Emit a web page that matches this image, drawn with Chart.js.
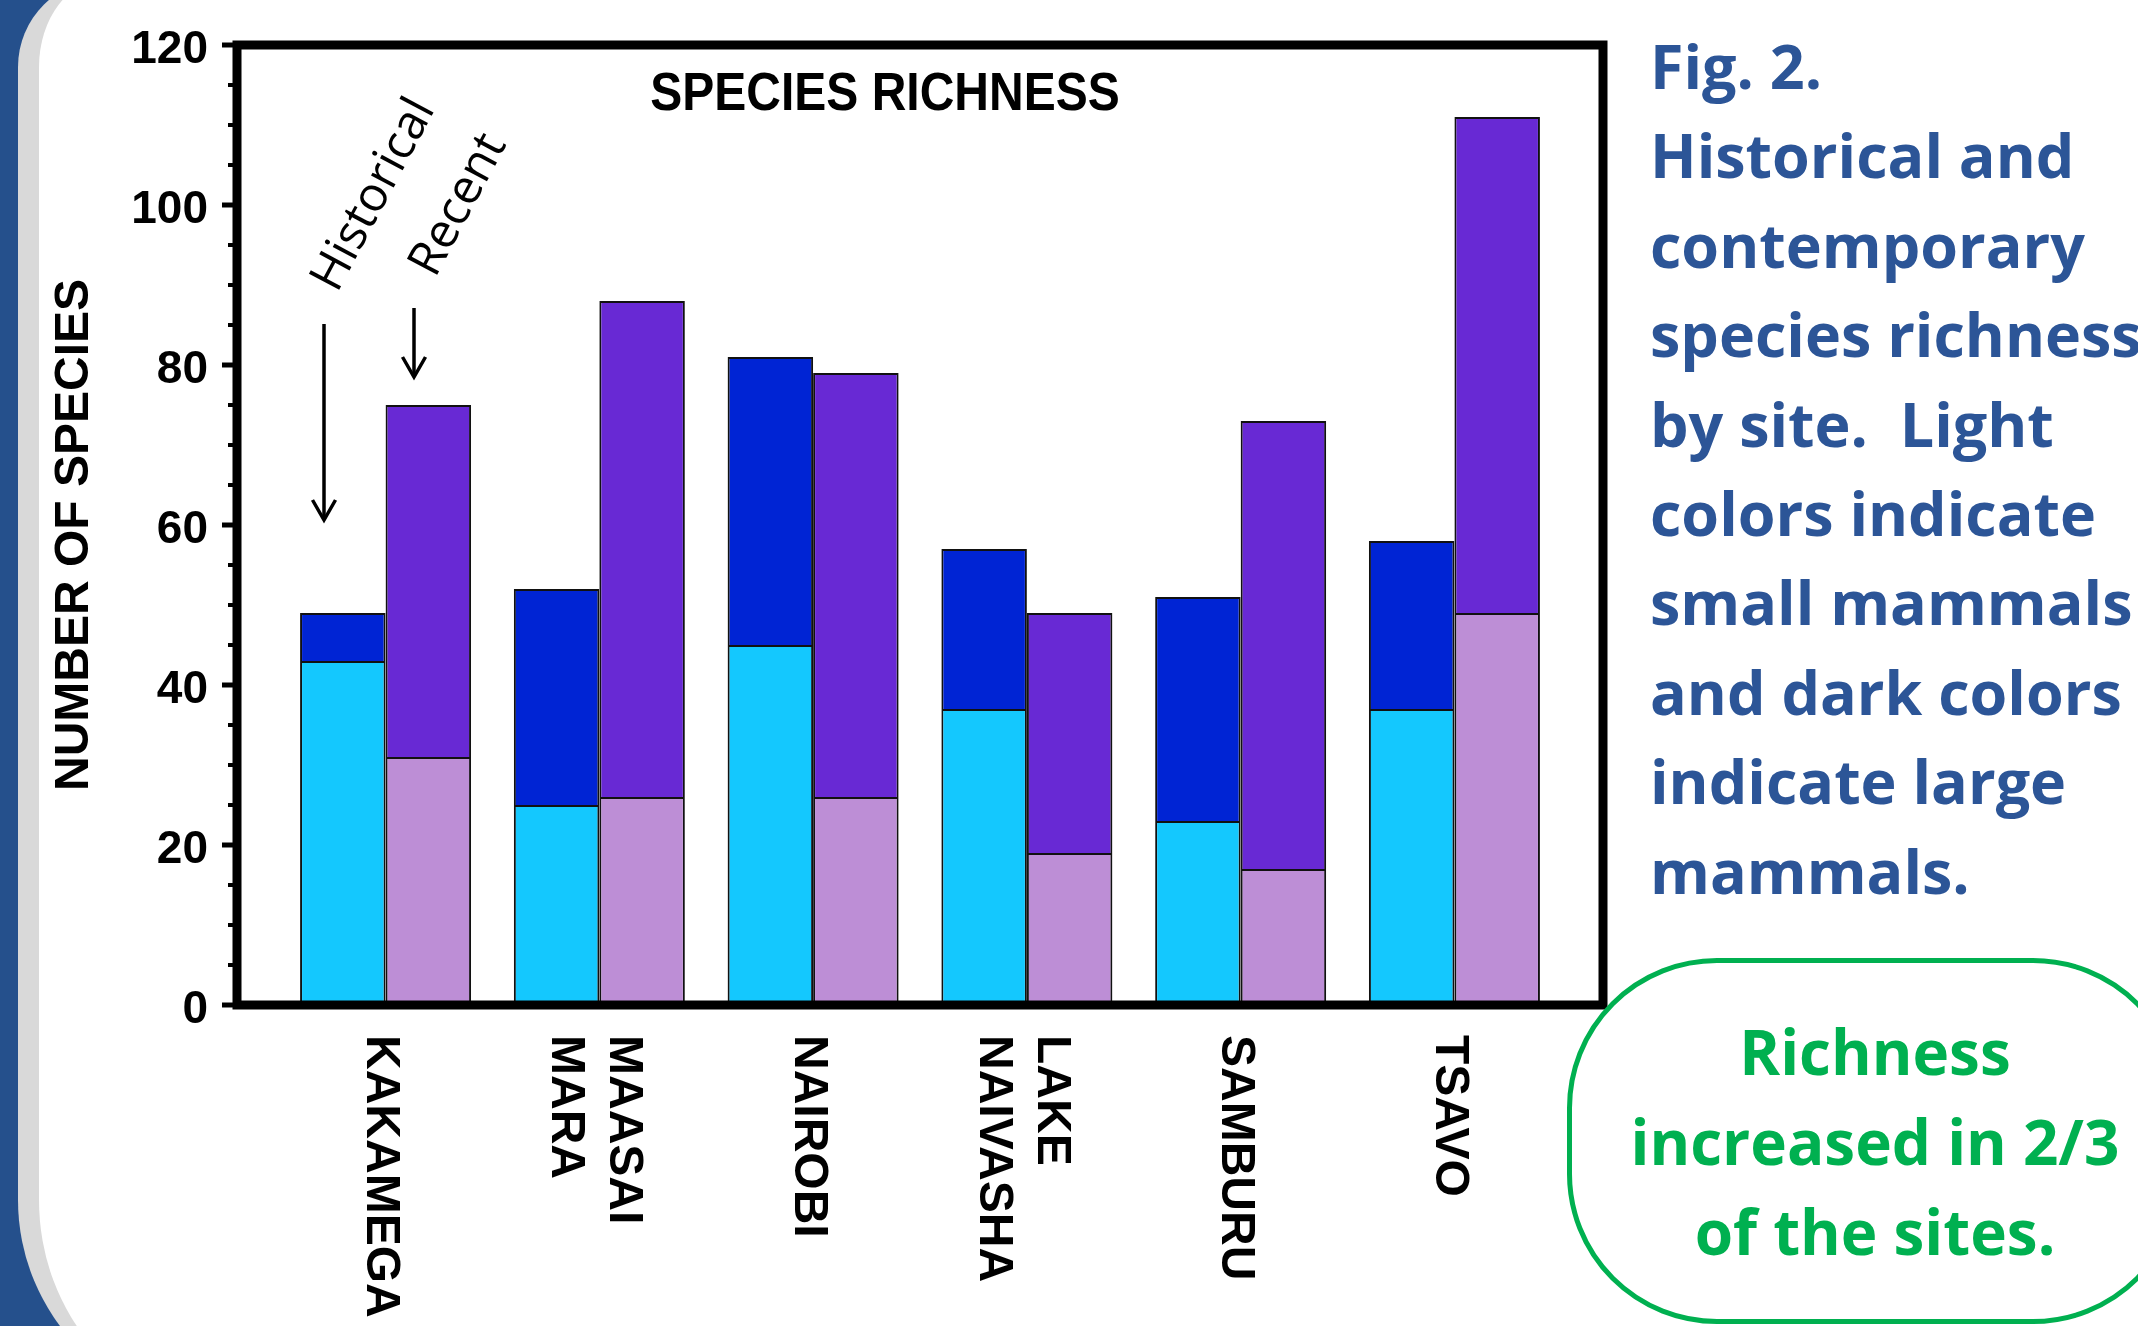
<!DOCTYPE html>
<html lang="en">
<head>
<meta charset="UTF-8">
<title>Species Richness</title>
<script src="https://cdn.jsdelivr.net/npm/chart.js"></script>
<style>
    html, body {
        margin: 0;
        padding: 0;
    }

    body {
        width: 2138px;
        height: 1326px;
        overflow: hidden;
        position: relative;
        background: #25508c;
    }

    .panel {
        position: absolute;
        left: 18px;
        top: -21px;
        width: 2300px;
        height: 1431px;
        background: #fff;
        border-left: 21px solid #d9d9d9;
        border-radius: 88px 0 0 210px;
        box-sizing: border-box;
    }

    #chartCanvas {
        position: absolute;
        left: 0;
        top: 0;
    }

    .caption {
        position: absolute;
        left: 1650px;
        top: 21px;
        color: #2c5597;
        font: bold 61px/89.4px 'Open Sans', sans-serif;
        white-space: nowrap;
    }

    .callout {
        position: absolute;
        left: 1567px;
        top: 958px;
        width: 616px;
        height: 366px;
        border: 5px solid #00b050;
        border-radius: 150px;
        box-sizing: border-box;
    }

    .callout-text {
        position: absolute;
        left: 1567px;
        top: 1006px;
        width: 616px;
        text-align: center;
        color: #00b050;
        font: bold 62px/90px 'Open Sans', sans-serif;
        white-space: nowrap;
    }
</style>
</head>
<body>
    <div class="panel"></div>
    <canvas id="chartCanvas" width="1640" height="1326"></canvas>

    <div class="caption">
        Fig. 2.<br>
        Historical and<br>
        contemporary<br>
        species richness<br>
        by site.&nbsp; Light<br>
        colors indicate<br>
        small mammals<br>
        and dark colors<br>
        indicate large<br>
        mammals.
    </div>

    <div class="callout"></div>
    <div class="callout-text">
        Richness<br>
        increased in 2/3<br>
        of the sites.
    </div>

<script>
    // data
    const sites = ['KAKAMEGA', ['MAASAI', 'MARA'], 'NAIROBI', ['LAKE', 'NAIVASHA'], 'SAMBURU', 'TSAVO'];
    const historicalSmall = [43, 25, 45, 37, 23, 37];
    const historicalLarge = [6, 27, 36, 20, 28, 21];
    const recentSmall = [31, 26, 26, 19, 17, 49];
    const recentLarge = [44, 62, 53, 30, 56, 62];
    const yTicks = [0, 20, 40, 60, 80, 100, 120];

    const FONT = "'Liberation Sans', Arial, sans-serif";
    Chart.defaults.font.family = FONT;
    Chart.defaults.color = '#000';

    function points(values) {
        return values.map((v, i) => ({ x: i, y: v }));
    }

    // black box around the plot plus the y tick marks
    const framePlugin = {
        id: 'frame',
        afterDatasetsDraw(chart) {
            const { ctx, chartArea } = chart;
            const y = chart.scales.y;
            ctx.save();
            ctx.strokeStyle = '#000';
            ctx.lineWidth = 9;
            ctx.lineJoin = 'miter';
            ctx.strokeRect(chartArea.left, chartArea.top,
                chartArea.right - chartArea.left, chartArea.bottom - chartArea.top);

            for (let v = 0; v <= 120; v += 5) {
                const py = y.getPixelForValue(v);
                const major = v % 20 === 0;
                ctx.lineWidth = major ? 5 : 4;
                ctx.beginPath();
                ctx.moveTo(chartArea.left - (major ? 15 : 9), py);
                ctx.lineTo(chartArea.left, py);
                ctx.stroke();
            }
            ctx.restore();
        }
    };

    // site names, turned clockwise under each group
    const siteLabels = {
        id: 'siteLabels',
        afterDraw(chart) {
            const { ctx, chartArea } = chart;
            const x = chart.scales.x;
            ctx.save();
            ctx.fillStyle = '#000';
            ctx.font = 'bold 48px ' + FONT;
            ctx.textAlign = 'left';
            ctx.textBaseline = 'middle';
            sites.forEach((name, i) => {
                const lines = Array.isArray(name) ? name : [name];
                ctx.save();
                ctx.translate(x.getPixelForValue(i) - 5, chartArea.bottom + 30);
                ctx.rotate(Math.PI / 2);
                lines.forEach((line, k) => {
                    ctx.fillText(line, 0, (k - (lines.length - 1) / 2) * 58);
                });
                ctx.restore();
            });
            ctx.restore();
        }
    };

    // in-plot title, y axis title and the Historical / Recent pointers
    const notes = {
        id: 'notes',
        afterDraw(chart) {
            const { ctx, chartArea } = chart;
            ctx.save();
            ctx.fillStyle = '#000';
            ctx.strokeStyle = '#000';

            ctx.save();
            ctx.font = 'bold 48px ' + FONT;
            ctx.textAlign = 'center';
            ctx.translate(885, 110);
            ctx.scale(1, 1.1);
            ctx.fillText('SPECIES RICHNESS', 0, 0);
            ctx.restore();

            ctx.save();
            ctx.font = 'bold 48px ' + FONT;
            ctx.textAlign = 'center';
            ctx.textBaseline = 'middle';
            ctx.translate(75, (chartArea.top + chartArea.bottom) / 2 + 10);
            ctx.rotate(-Math.PI / 2);
            ctx.fillText('NUMBER OF SPECIES', 0, 0);
            ctx.restore();

            ctx.font = "48px 'Open Sans', sans-serif";
            ctx.textAlign = 'left';
            [['Historical', 337, 294], ['Recent', 435, 279]].forEach(([t, tx, ty]) => {
                ctx.save();
                ctx.translate(tx, ty);
                ctx.rotate(-62 * Math.PI / 180);
                ctx.fillText(t, 0, 0);
                ctx.restore();
            });

            ctx.lineWidth = 3.5;
            [[324, 324, 520], [414, 308, 377]].forEach(([ax, y1, y2]) => {
                ctx.beginPath();
                ctx.moveTo(ax, y1);
                ctx.lineTo(ax, y2);
                ctx.stroke();
                ctx.beginPath();
                ctx.moveTo(ax - 11.5, y2 - 20);
                ctx.lineTo(ax, y2);
                ctx.lineTo(ax + 11.5, y2 - 20);
                ctx.stroke();
            });
            ctx.restore();
        }
    };

    const barStyle = {
        borderColor: '#111',
        borderWidth: 2,
        barPercentage: 1.0,
        categoryPercentage: 0.8
    };

    new Chart(document.getElementById('chartCanvas'), {
        type: 'bar',
        data: {
            datasets: [
                { label: 'Historical small', stack: 'hist', data: points(historicalSmall), backgroundColor: '#14c8fe', ...barStyle },
                { label: 'Historical large', stack: 'hist', data: points(historicalLarge), backgroundColor: '#0024d4', ...barStyle },
                { label: 'Recent small', stack: 'rec', data: points(recentSmall), backgroundColor: '#bd8ed6', ...barStyle },
                { label: 'Recent large', stack: 'rec', data: points(recentLarge), backgroundColor: '#6829d4', ...barStyle }
            ]
        },
        options: {
            responsive: false,
            maintainAspectRatio: false,
            animation: false,
            layout: { padding: { left: 20, top: 45, right: 37, bottom: 321 } },
            plugins: {
                legend: { display: false },
                tooltip: { enabled: false },
                title: { display: false }
            },
            scales: {
                x: {
                    type: 'linear',
                    display: false,
                    offset: false,
                    bounds: 'data',
                    min: -0.695,
                    max: 5.695,
                    grid: { offset: false },
                    afterBuildTicks: s => { s.ticks = sites.map((_, i) => ({ value: i })); }
                },
                y: {
                    stacked: true,
                    min: 0,
                    max: 120,
                    afterBuildTicks: s => { s.ticks = yTicks.map(v => ({ value: v })); },
                    afterFit: s => {
                        s.width = 217;
                        s.paddingTop = 0;
                        s.paddingBottom = 0;
                    },
                    grid: { display: false, drawTicks: false },
                    border: { display: false },
                    ticks: {
                        padding: 29,
                        labelOffset: 5,
                        font: { size: 46, weight: 'bold' },
                        color: '#000'
                    },
                    title: { display: false }
                }
            }
        },
        plugins: [framePlugin, siteLabels, notes]
    });
</script>
</body>
</html>
